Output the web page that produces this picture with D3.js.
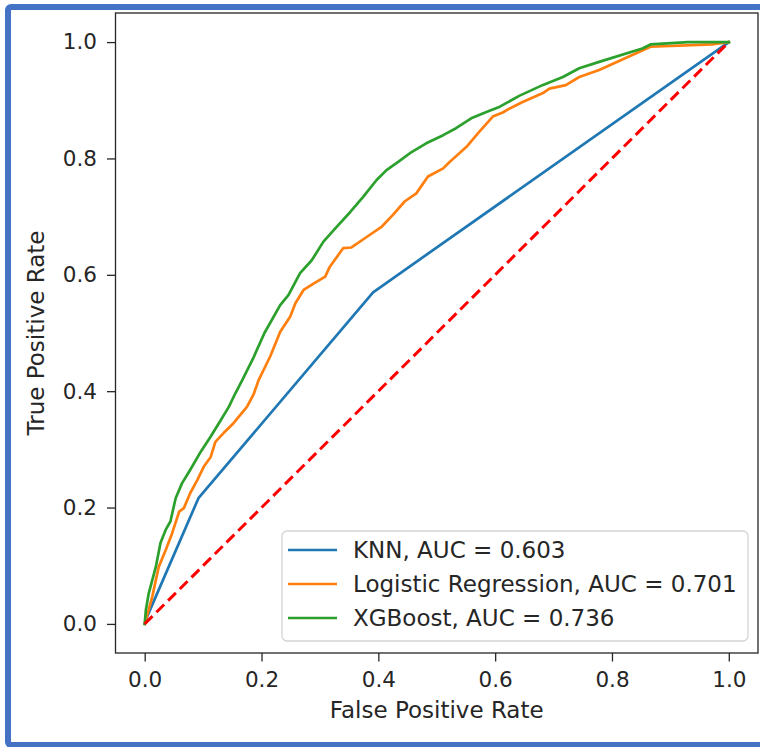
<!DOCTYPE html>
<html>
<head>
<meta charset="utf-8">
<script src="https://cdn.jsdelivr.net/npm/d3@7"></script>
<style>
  html, body { margin: 0; padding: 0; background: #fff; }
  svg { display: block; }
  text { font-family: "DejaVu Sans", sans-serif; fill: #262626; }
</style>
</head>
<body>
<svg id="chart" width="760" height="747"></svg>
<script>
// ---- data ----
const knnFPR = [0, 0.003, 0.092, 0.391, 1];
const knnTPR = [0, 0.01, 0.216, 0.570, 1];

const lrFPR = [0, 0.013, 0.024, 0.036, 0.047, 0.059, 0.067, 0.078, 0.090, 0.101, 0.113, 0.121, 0.135, 0.152, 0.175, 0.187, 0.195,
  0.215, 0.232, 0.249, 0.258, 0.272, 0.289, 0.309, 0.317, 0.340, 0.354, 0.380, 0.406, 0.425, 0.445, 0.465, 0.485, 0.511, 0.522,
  0.551, 0.573, 0.596, 0.613, 0.625, 0.647, 0.681, 0.693, 0.721, 0.744, 0.778, 0.866, 0.971, 1];
const lrTPR = [0, 0.047, 0.098, 0.127, 0.156, 0.193, 0.199, 0.225, 0.247, 0.270, 0.287, 0.313, 0.328, 0.345, 0.373, 0.396, 0.419,
  0.460, 0.502, 0.528, 0.551, 0.574, 0.585, 0.597, 0.614, 0.646, 0.647, 0.665, 0.683, 0.703, 0.726, 0.740, 0.769, 0.783, 0.794,
  0.820, 0.846, 0.872, 0.879, 0.886, 0.897, 0.912, 0.920, 0.926, 0.940, 0.952, 0.992, 0.996, 1];

const xgbFPR = [0, 0.002, 0.007, 0.019, 0.027, 0.036, 0.044, 0.053, 0.064, 0.078, 0.096, 0.113, 0.127, 0.144, 0.155, 0.167,
  0.185, 0.205, 0.232, 0.246, 0.266, 0.286, 0.306, 0.329, 0.352, 0.374, 0.397, 0.414, 0.434, 0.454, 0.482, 0.511, 0.533,
  0.559, 0.585, 0.608, 0.642, 0.681, 0.716, 0.744, 0.778, 0.852, 0.866, 0.93, 1];
const xgbTPR = [0, 0.024, 0.053, 0.098, 0.139, 0.162, 0.176, 0.216, 0.242, 0.265, 0.296, 0.322, 0.345, 0.373, 0.396, 0.419,
  0.455, 0.500, 0.548, 0.565, 0.603, 0.625, 0.657, 0.683, 0.708, 0.734, 0.763, 0.780, 0.794, 0.809, 0.826, 0.840, 0.852,
  0.869, 0.880, 0.889, 0.908, 0.926, 0.940, 0.955, 0.966, 0.989, 0.996, 1.0, 1];

const chanceFPR = [0, 1];
const chanceTPR = [0, 1];

const seriesNames = ["KNN, AUC = 0.603", "Logistic Regression, AUC = 0.701", "XGBoost, AUC = 0.736"];
const seriesColors = ["#1f77b4", "#ff7f0e", "#2ca02c"];

const xTicks = [0, 0.2, 0.4, 0.6, 0.8, 1.0];
const yTicks = [0, 0.2, 0.4, 0.6, 0.8, 1.0];
const xLabel = "False Positive Rate";
const yLabel = "True Positive Rate";

// ---- drawing ----
const svg = d3.select("#chart");

const x = d3.scaleLinear().domain([-0.05, 1.05]).range([115.5, 758]);
const y = d3.scaleLinear().domain([-0.05, 1.05]).range([653, 13]);

// outer blue frame
svg.append("rect")
  .attr("x", 8).attr("y", 7).attr("width", 770).attr("height", 738)
  .attr("rx", 3)
  .attr("fill", "none").attr("stroke", "#4472C4").attr("stroke-width", 6);

// axes
const fmt = d3.format(".1f");
const gx = svg.append("g").attr("transform", `translate(0,${y(-0.05)})`)
  .call(d3.axisBottom(x).tickValues(xTicks).tickFormat(fmt).tickSize(8.5).tickPadding(10.5));
const gy = svg.append("g").attr("transform", `translate(${x(-0.05)},0)`)
  .call(d3.axisLeft(y).tickValues(yTicks).tickFormat(fmt).tickSize(8.5).tickPadding(10));
[gx, gy].forEach(g => {
  g.select(".domain").remove();
  g.selectAll(".tick line").attr("stroke", "#262626").attr("stroke-width", 1.3);
  g.selectAll(".tick text").attr("font-size", "21.5px").attr("font-family", "DejaVu Sans").attr("fill", "#262626");
});

// lines
const line = d3.line().x(d => x(d[0])).y(d => y(d[1]));
const plot = svg.append("g");
const series = [
  [knnFPR, knnTPR],
  [lrFPR, lrTPR],
  [xgbFPR, xgbTPR]
];
series.forEach((s, i) => {
  plot.append("path")
    .datum(s[0].map((v, j) => [v, s[1][j]]))
    .attr("d", line)
    .attr("fill", "none")
    .attr("stroke", seriesColors[i])
    .attr("stroke-width", 2.7)
    .attr("stroke-linejoin", "round")
    .attr("stroke-linecap", "square");
});
plot.append("path")
  .datum(chanceFPR.map((v, j) => [v, chanceTPR[j]]))
  .attr("d", line)
  .attr("fill", "none")
  .attr("stroke", "#ff0000")
  .attr("stroke-width", 3)
  .attr("stroke-dasharray", "11,5.5");

// spines
svg.append("rect")
  .attr("x", x(-0.05)).attr("y", y(1.05))
  .attr("width", x(1.05) - x(-0.05)).attr("height", y(-0.05) - y(1.05))
  .attr("fill", "none").attr("stroke", "#262626").attr("stroke-width", 1.3);

// axis labels
svg.append("text")
  .attr("x", (x(-0.05) + x(1.05)) / 2).attr("y", 718)
  .attr("text-anchor", "middle").attr("font-size", "23px")
  .text(xLabel);
svg.append("text")
  .attr("transform", `translate(44,${(y(-0.05) + y(1.05)) / 2}) rotate(-90)`)
  .attr("text-anchor", "middle").attr("font-size", "23px")
  .text(yLabel);

// legend
const leg = svg.append("g");
leg.append("rect")
  .attr("x", 282).attr("y", 531).attr("width", 466).attr("height", 110)
  .attr("rx", 5)
  .attr("fill", "#ffffff").attr("fill-opacity", 0.85)
  .attr("stroke", "#d4d4d4").attr("stroke-width", 1.3);
seriesNames.forEach((name, i) => {
  const cy = 550 + i * 34;
  leg.append("line")
    .attr("x1", 288).attr("x2", 337).attr("y1", cy).attr("y2", cy)
    .attr("stroke", seriesColors[i]).attr("stroke-width", 2.7);
  leg.append("text")
    .attr("x", 353).attr("y", cy).attr("dy", "0.35em")
    .attr("font-size", "23px")
    .text(name);
});
</script>
</body>
</html>
